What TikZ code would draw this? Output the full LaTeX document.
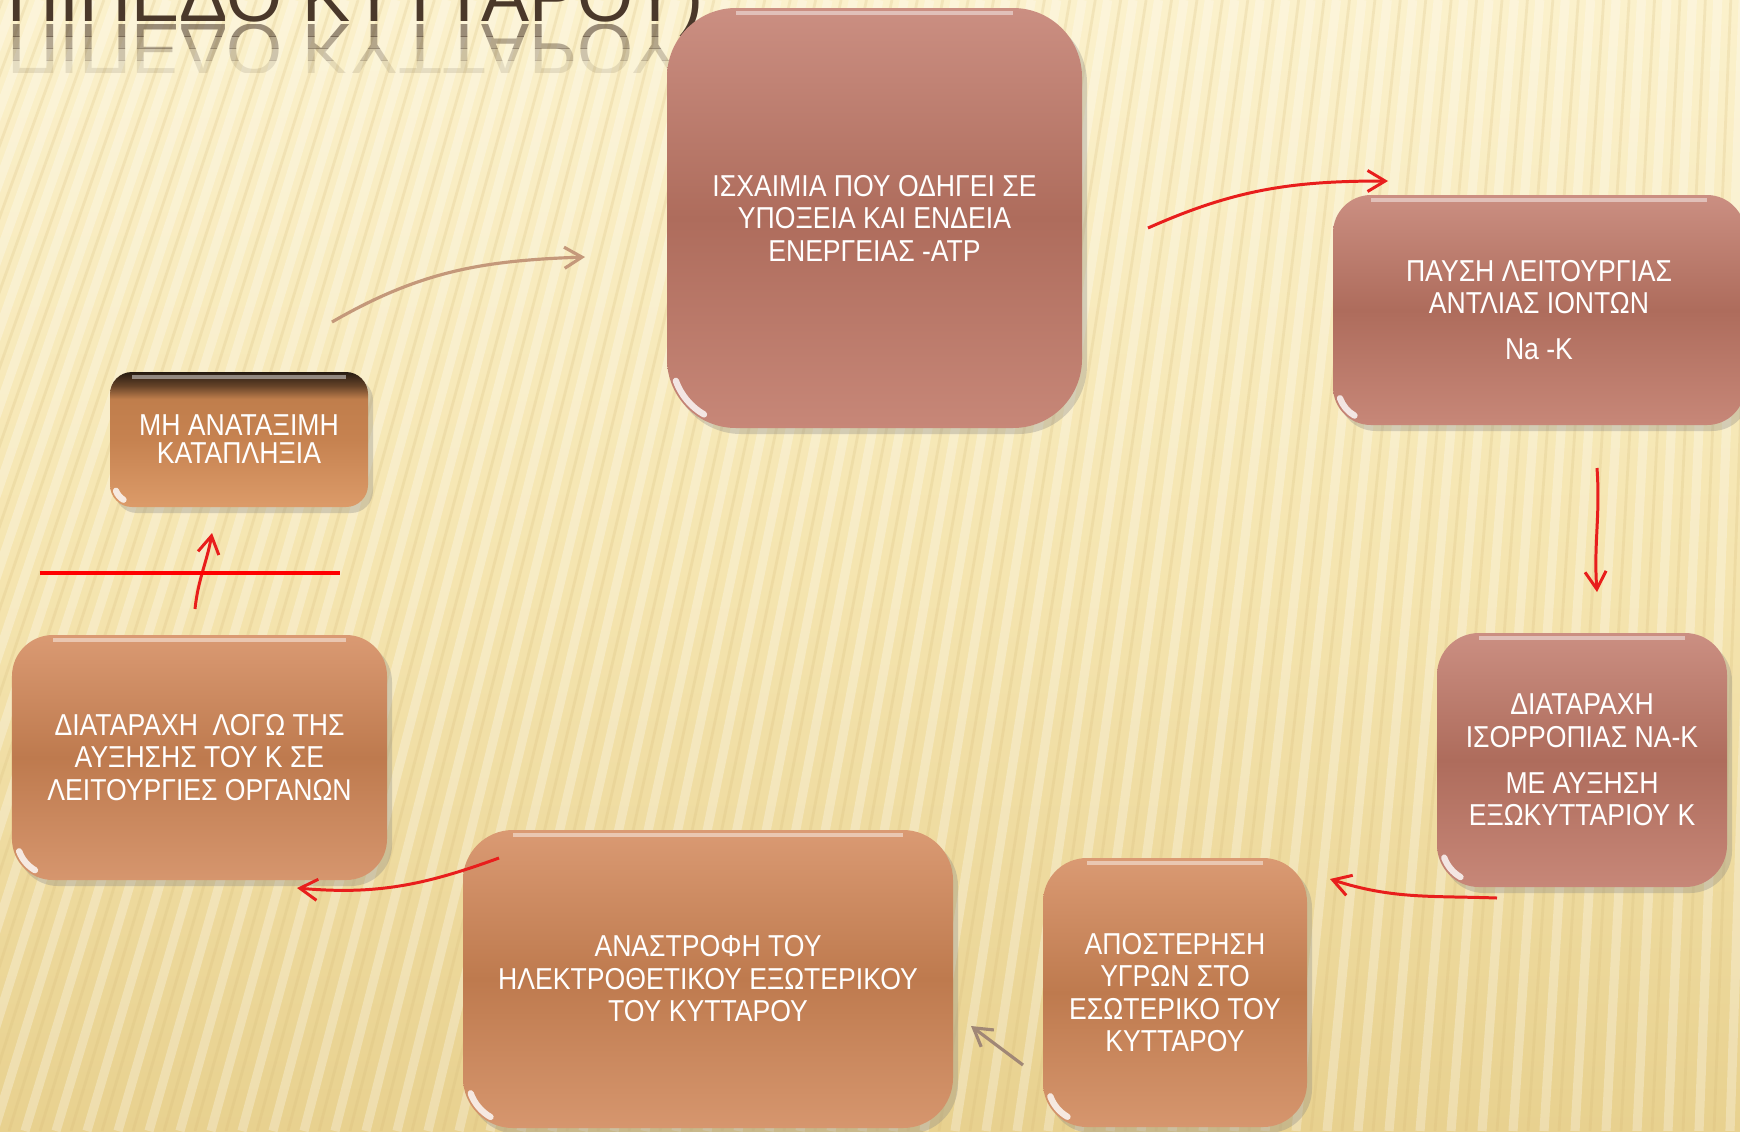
\documentclass[tikz,border=0pt]{standalone}
\usepackage{fontspec}
\setmainfont{Liberation Sans}[FakeStretch=0.88]
\newfontfamily\titlefont{Liberation Sans}
\usetikzlibrary{arrows.meta,shadows}

\definecolor{bgtop}{RGB}{251,241,204}
\definecolor{bgmid}{RGB}{245,229,176}
\definecolor{bgbot}{RGB}{232,209,143}
\definecolor{stripe}{RGB}{214,186,120}
\definecolor{titlebrown}{RGB}{74,56,42}
\definecolor{rosetop}{RGB}{203,143,130}
\definecolor{rosemid}{RGB}{174,108,92}
\definecolor{rosebot}{RGB}{199,135,120}
\definecolor{ambertop}{RGB}{218,154,115}
\definecolor{ambermid}{RGB}{190,122,78}
\definecolor{amberbot}{RGB}{214,150,110}
\definecolor{shockdark}{RGB}{38,27,17}
\definecolor{shockdusk}{RGB}{100,66,40}
\definecolor{shocktop}{RGB}{192,126,76}
\definecolor{shockmid}{RGB}{198,130,80}
\definecolor{shockbot}{RGB}{220,155,105}
\definecolor{arrowred}{RGB}{232,30,28}
\definecolor{arrowtan}{RGB}{196,152,122}
\definecolor{arrowgrey}{RGB}{160,135,118}

\pgfdeclareverticalshading{shockshade}{100bp}{color(0bp)=(shockbot); color(25bp)=(shockbot); color(50bp)=(shockmid); color(65bp)=(shocktop); color(70bp)=(shockdusk); color(75bp)=(shockdark); color(100bp)=(shockdark)}

\tikzset{
  box/.style={rounded corners=#1, inner sep=0pt, outer sep=0pt, text=white, align=center,
    font=\fontsize{8.6}{9.25}\selectfont,
    drop shadow={shadow xshift=0.05cm, shadow yshift=-0.06cm, opacity=0.3}},
  rosebox/.style={box=#1, top color=rosetop, bottom color=rosebot, middle color=rosemid},
  amberbox/.style={box=#1, top color=ambertop, bottom color=amberbot, middle color=ambermid},
  redarrow/.style={arrowred, line width=0.85pt, -{Straight Barb[length=5pt,width=6pt]}},
  tanarrow/.style={arrowtan, line width=0.9pt, -{Straight Barb[length=5pt,width=6pt]}},
  titletext/.style={font=\titlefont\fontsize{20.5}{20.5}\selectfont, text=titlebrown, anchor=base west, inner sep=0pt},
}

\begin{document}
\begin{tikzpicture}
  \useasboundingbox (0,0) rectangle (17.4,-11.31);
  \clip (0,0) rectangle (17.4,-11.31);
  \fill[top color=bgtop, bottom color=bgbot, middle color=bgmid] (0,0) rectangle (17.4,-11.31);
  \foreach \i in {0,...,70} {
    \pgfmathsetmacro{\xb}{-4.4+0.31*\i}
    \pgfmathsetmacro{\xt}{3.5+0.82*\xb}
    \draw[white, opacity=0.28, line width=2.6pt] (\xb,-11.31) -- (\xt,0);
    \draw[stripe, opacity=0.22, line width=0.8pt] (\xb+0.15,-11.31) -- (\xt+0.13,0);
  }

  \node[titletext] (title) at (0.07,-0.21) {ΠΙΠΕΔΟ ΚΥΤΤΑΡΟΥ)};
  \foreach \k/\o in {0/0.55,1/0.4,2/0.25,3/0.12} {
    \begin{scope}
      \clip (0,{-0.24-0.12*\k}) rectangle (7.5,{-0.36-0.12*\k});
      \begin{scope}[yscale=-1, transform shape]
        \node[titletext, text opacity=\o] (mirror\k) at (0.07,0.24) {ΠΙΠΕΔΟ ΚΥΤΤΑΡΟΥ)};
      \end{scope}
    \end{scope}
  }

  \node[rosebox=0.69cm, minimum width=4.15cm, minimum height=4.2cm] (ischemia) at (8.745,-2.18)
    {ΙΣΧΑΙΜΙΑ ΠΟΥ ΟΔΗΓΕΙ ΣΕ\\ΥΠΟΞΕΙΑ ΚΑΙ ΕΝΔΕΙΑ\\ΕΝΕΡΓΕΙΑΣ -ATP};
  \node[rosebox=0.38cm, minimum width=4.12cm, minimum height=2.3cm] (pump) at (15.39,-3.1)
    {ΠΑΥΣΗ ΛΕΙΤΟΥΡΓΙΑΣ\\ΑΝΤΛΙΑΣ ΙΟΝΤΩΝ\\[3.7pt]Na -K};
  \node[rosebox=0.42cm, minimum width=2.9cm, minimum height=2.54cm] (balance) at (15.82,-7.6)
    {ΔΙΑΤΑΡΑΧΗ\\ΙΣΟΡΡΟΠΙΑΣ ΝΑ-Κ\\[3.7pt]ΜΕ ΑΥΞΗΣΗ\\ΕΞΩΚΥΤΤΑΡΙΟΥ Κ};
  \node[amberbox=0.44cm, minimum width=2.64cm, minimum height=2.69cm] (fluids) at (11.75,-9.925)
    {ΑΠΟΣΤΕΡΗΣΗ\\ΥΓΡΩΝ ΣΤΟ\\ΕΣΩΤΕΡΙΚΟ ΤΟΥ\\ΚΥΤΤΑΡΟΥ};
  \node[amberbox=0.5cm, minimum width=4.9cm, minimum height=2.98cm] (reversal) at (7.08,-9.79)
    {ΑΝΑΣΤΡΟΦΗ ΤΟΥ\\ΗΛΕΚΤΡΟΘΕΤΙΚΟΥ ΕΞΩΤΕΡΙΚΟΥ\\ΤΟΥ ΚΥΤΤΑΡΟΥ};
  \node[amberbox=0.41cm, minimum width=3.75cm, minimum height=2.45cm] (organs) at (1.995,-7.575)
    {ΔΙΑΤΑΡΑΧΗ\ \ ΛΟΓΩ ΤΗΣ\\ΑΥΞΗΣΗΣ ΤΟΥ Κ ΣΕ\\ΛΕΙΤΟΥΡΓΙΕΣ ΟΡΓΑΝΩΝ};
  \node[box=0.22cm, shade, shading=shockshade, minimum width=2.58cm, minimum height=1.35cm,
    font=\fontsize{8.6}{8}\selectfont] (shock) at (2.39,-4.395) {ΜΗ ΑΝΑΤΑΞΙΜΗ\\ΚΑΤΑΠΛΗΞΙΑ};

  \foreach \n/\r in {ischemia/0.69,pump/0.38,balance/0.42,fluids/0.44,reversal/0.5,organs/0.41,shock/0.22} {
    \pgfmathsetmacro{\rr}{\r-0.05}
    \draw[white, opacity=0.8, line width=1.8pt, line cap=round]
      ([shift={(\r,\r)}]\n.south west) ++(200:\rr) arc[start angle=200, end angle=240, radius=\rr];
    \draw[white, opacity=0.45, line width=1pt]
      ([shift={(\r,-0.05)}]\n.north west) -- ([shift={(-\r,-0.05)}]\n.north east);
  }

  \coordinate (shockout) at (3.32,-3.22);
  \coordinate (ischemiain) at (5.85,-2.57);
  \coordinate (ischemiaout) at (11.48,-2.28);
  \coordinate (pumpin) at (13.88,-1.81);
  \coordinate (pumpout) at (15.97,-4.68);
  \coordinate (balancein) at (15.97,-5.92);
  \coordinate (balanceout) at (14.97,-8.98);
  \coordinate (fluidsin) at (13.3,-8.79);
  \coordinate (fluidsout) at (10.23,-10.65);
  \coordinate (reversalin) at (9.71,-10.26);
  \coordinate (reversalout) at (4.99,-8.58);
  \coordinate (organsin) at (2.97,-8.88);
  \coordinate (organsout) at (1.95,-6.09);
  \coordinate (shockin) at (2.12,-5.33);
  \coordinate (barleft) at (0.4,-5.73);
  \coordinate (barright) at (3.4,-5.73);

  \draw[tanarrow] (shockout) to[out=30,in=182] (ischemiain);
  \draw[redarrow] (ischemiaout) to[out=24,in=180] (pumpin);
  \draw[redarrow] (pumpout) to[out=-86,in=94] (balancein);
  \draw[redarrow] (balanceout) to[out=178,in=-18] (fluidsin);
  \draw[tanarrow, arrowgrey] (fluidsout) -- (reversalin);
  \draw[redarrow] (reversalout) to[out=200,in=-5] (organsin);
  \draw[redarrow] (organsout) to[out=84,in=-100] (shockin);
  \draw[red, line width=1.4pt] (barleft) -- (barright);
\end{tikzpicture}
\end{document}
